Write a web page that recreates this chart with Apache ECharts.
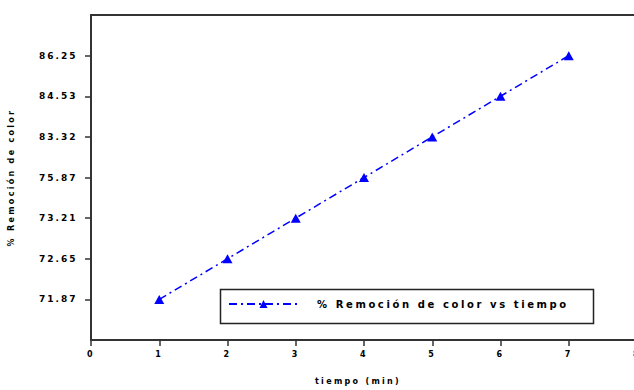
<!DOCTYPE html>
<html>
<head>
<meta charset="utf-8">
<script src="https://cdn.jsdelivr.net/npm/echarts@6/dist/echarts.min.js"></script>
<style>
  html, body { margin: 0; padding: 0; background: #fff; }
  #chart { width: 634px; height: 390px; }
  /* spaced-out lettering for the chart text */
  #chart text, #chart tspan { letter-spacing: 2.3px; }
  #chart text[style*="9px"] { letter-spacing: 2px; }
  #chart text[style*="10px"] { letter-spacing: 2.6px; }
</style>
</head>
<body>
<div id="chart"></div>
<script>
// Tiempo (min) de cada medición
const tiempos = [1, 2, 3, 4, 5, 6, 7];
// % de remoción de color medido en cada tiempo
const remocion = ['71.87', '72.65', '73.21', '75.87', '83.32', '84.53', '86.25'];
// Etiquetas del eje Y (con huecos en los extremos del marco)
const etiquetasY = [''].concat(remocion, ['']);
// Marcas del eje X
const xMin = 0, xMax = 8, xPaso = 1;

const serieNombre = '% Remoción de color vs tiempo';
const puntos = tiempos.map((t, i) => [t, remocion[i]]);

const azul = '#0000ff';
const eje = '#333333';
const fuente = { fontFamily: 'DejaVu Sans', fontWeight: 'bold', fontSize: 8, color: '#000' };

const chart = echarts.init(document.getElementById('chart'), null, { renderer: 'svg' });
chart.setOption({
  animation: false,
  backgroundColor: '#fff',
  grid: { left: 91, top: 15, width: 546, bottom: 50, containLabel: false, outerBoundsMode: 'none' },
  xAxis: [
    {
      type: 'value', min: xMin, max: xMax, interval: xPaso,
      name: 'tiempo (min)', nameLocation: 'middle', nameGap: 37,
      nameTextStyle: Object.assign({}, fuente, { padding: [0, 12, 0, 0] }),
      axisLine: { show: true, lineStyle: { color: eje, width: 2 } },
      axisTick: { show: true, length: 6, lineStyle: { color: eje, width: 1.5 } },
      axisLabel: Object.assign({ margin: 10 }, fuente),
      splitLine: { show: false }
    },
    {
      type: 'value', position: 'top', min: xMin, max: xMax, interval: xPaso,
      axisLine: { show: true, onZero: false, lineStyle: { color: eje, width: 2 } },
      axisTick: { show: false }, axisLabel: { show: false }, splitLine: { show: false }
    }
  ],
  yAxis: {
    type: 'category', data: etiquetasY, boundaryGap: false,
    name: '% Remoción de color', nameLocation: 'middle', nameGap: 76,
    nameTextStyle: Object.assign({}, fuente),
    axisLine: { show: true, lineStyle: { color: eje, width: 2 } },
    axisTick: {
      show: true, length: 6, inside: false,
      interval: (i, v) => v !== '',
      lineStyle: { color: eje, width: 1.5 }
    },
    axisLabel: Object.assign({}, fuente, { margin: 52, align: 'left', interval: 0, fontSize: 9 }),
    splitLine: { show: false }
  },
  legend: {
    show: true,
    left: 228, top: 287,
    padding: [12, 0],
    itemWidth: 69, itemHeight: 10,
    textStyle: Object.assign({}, fuente, { padding: [0, 0, 0, 14], fontSize: 10 }),
    data: [serieNombre]
  },
  // marco de la leyenda
  graphic: [{
    type: 'rect', left: 218, top: 287, z: 10, silent: true,
    shape: { width: 373, height: 34 },
    style: { fill: 'none', stroke: '#222', lineWidth: 1.5 }
  }],
  series: [{
    name: serieNombre,
    type: 'line',
    data: puntos,
    symbol: 'triangle',
    symbolSize: [10, 9],
    itemStyle: { color: azul },
    lineStyle: { color: azul, width: 1.5, type: [8, 4, 2, 4] }
  }]
});
</script>
</body>
</html>
